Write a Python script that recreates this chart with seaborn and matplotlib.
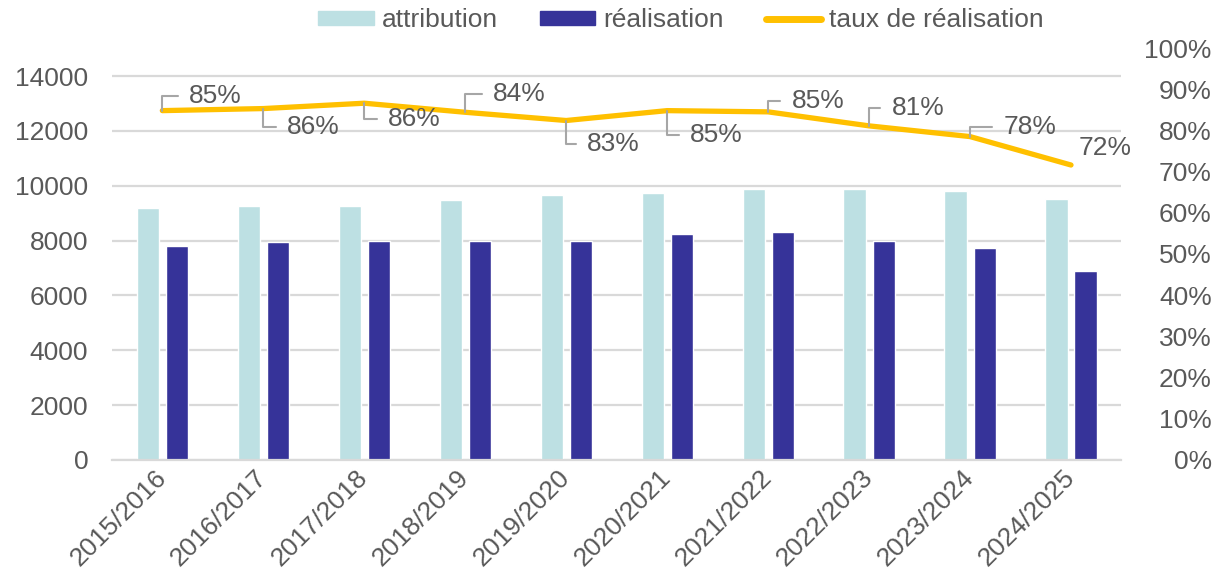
import numpy as np
import pandas as pd
import seaborn as sns
from matplotlib import pyplot as plt
from matplotlib.patches import Patch
from matplotlib.lines import Line2D

# values
annees = ['2015/2016', '2016/2017', '2017/2018', '2018/2019', '2019/2020',
          '2020/2021', '2021/2022', '2022/2023', '2023/2024', '2024/2025']
attribution = [9170, 9270, 9270, 9470, 9650, 9730, 9880, 9880, 9810, 9520]
realisation = [7790, 7950, 8000, 8000, 8000, 8250, 8300, 8000, 7730, 6890]
taux = [0.848, 0.853, 0.866, 0.844, 0.824, 0.848, 0.845, 0.811, 0.785, 0.716]
taux_labels = ['85%', '86%', '86%', '84%', '83%', '85%', '85%', '81%', '78%', '72%']

# label offsets (pixels) from each point, and whether a leader line is drawn
label_dx = [27, 24, 24, 28, 21, 23, 24, 23, 34, 8]
label_dy = [15, -18, -16, 18, -23, -24, 11, 18, 10, 17]
leader = [True] * 9 + [False]

C_ATTR = '#BDE0E3'
C_REAL = '#363399'
C_TAUX = '#FFC000'
C_GRID = '#D9D9D9'
C_TEXT = '#595959'

sns.set_style('white')
plt.rcParams['font.family'] = ['Liberation Sans', 'DejaVu Sans']
plt.rcParams['font.size'] = 19
plt.rcParams['text.color'] = C_TEXT
plt.rcParams['xtick.color'] = C_TEXT
plt.rcParams['ytick.color'] = C_TEXT

df = pd.DataFrame({
    'annee': annees * 2,
    'serie': ['attribution'] * len(annees) + ['réalisation'] * len(annees),
    'valeur': attribution + realisation,
})

fig = plt.figure(figsize=(12.25, 5.77), dpi=100)
ax = fig.add_axes([0.0913, 0.2028, 0.8242, 0.714])

sns.barplot(data=df, x='annee', y='valeur', hue='serie',
            palette=[C_ATTR, C_REAL], saturation=1, width=0.576, gap=0.24,
            legend=False, ax=ax)
ax.set_ylim(0, 15021)
ax.set_yticks(np.arange(0, 14001, 2000))
ax.set_xlim(-0.5, len(annees) - 0.5)
ax.set_xlabel('')
ax.set_ylabel('')
ax.yaxis.grid(True, color=C_GRID, lw=1.6)
ax.set_axisbelow(True)
for s in ['left', 'right', 'top']:
    ax.spines[s].set_visible(False)
ax.spines['bottom'].set_color(C_GRID)
ax.spines['bottom'].set_linewidth(1.6)
ax.tick_params(axis='y', length=0, pad=17)
ax.tick_params(axis='x', length=0, pad=10)
for lbl in ax.get_xticklabels():
    lbl.set_rotation(45)
    lbl.set_ha('right')
    lbl.set_va('center')
    lbl.set_rotation_mode('anchor')

ax2 = ax.twinx()
x = np.arange(len(annees))
sns.lineplot(x=x, y=taux, color=C_TAUX, lw=3.8, ax=ax2, legend=False)
ax2.set_ylim(0, 1)
ax2.set_yticks(np.arange(0, 1.01, 0.1))
ax2.set_yticklabels([f'{int(round(v * 100))}%' for v in np.arange(0, 1.01, 0.1)])
for lbl in ax2.get_yticklabels():
    lbl.set_ha('right')
ax2.tick_params(axis='y', length=0, pad=65)
for s in ['left', 'right', 'top', 'bottom']:
    ax2.spines[s].set_visible(False)
ax2.set_xlim(-0.5, len(annees) - 0.5)

for i in range(len(annees)):
    arrow = None
    if leader[i]:
        arrow = dict(arrowstyle='-', color='#A6A6A6', lw=1.5,
                     connectionstyle='angle,angleA=0,angleB=90,rad=0',
                     relpos=(0, 0.5), shrinkA=6, shrinkB=0)
    ax2.annotate(taux_labels[i], xy=(x[i], taux[i]),
                 xytext=(label_dx[i], label_dy[i]), textcoords='offset pixels',
                 ha='left', va='center', fontsize=19, color=C_TEXT,
                 arrowprops=arrow)

handles = [Patch(color=C_ATTR), Patch(color=C_REAL),
           Line2D([0], [0], color=C_TAUX, lw=5)]
fig.legend(handles, ['attribution', 'réalisation', 'taux de réalisation'],
           loc='center', bbox_to_anchor=(0.556, 0.965), ncol=3, frameon=False,
           handlelength=2.1, handleheight=0.45, handletextpad=0.3,
           columnspacing=1.6, fontsize=19)

plt.savefig('out.png', dpi=100)
